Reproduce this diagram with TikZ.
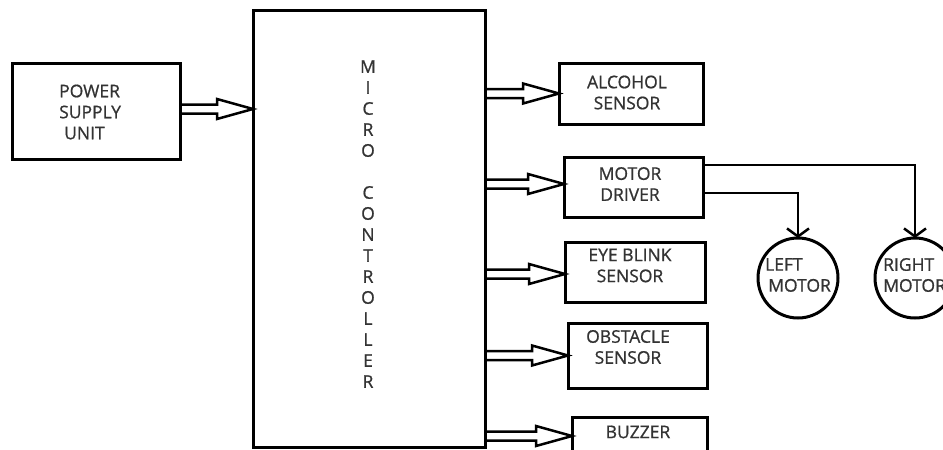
\documentclass[tikz,border=0pt]{standalone}
\usepackage{fontspec}
\setmainfont{Open Sans}[RawFeature={embolden=0.8}]
\usetikzlibrary{arrows.meta,calc}
\begin{document}
\begin{tikzpicture}[x=1pt,y=-1pt,
  blk/.style={draw, line width=3pt, inner sep=0pt, outer sep=0pt, rectangle},
  lbl/.style={text=black!80, font=\fontsize{17.5}{21}\selectfont, align=center, inner sep=0pt},
  lbll/.style={lbl, align=left, anchor=west},
  motor/.style={draw, circle, line width=3pt, minimum size=80pt, inner sep=0pt, outer sep=0pt},
  hollow/.style={line width=2.5pt, line join=miter,
    to path={let \p1=(\tikztostart), \p2=(\tikztotarget) in
      (\x1,\y1+4.5pt) -- (\x2-36pt,\y2+4.5pt) -- (\x2-36pt,\y2+10pt) -- (\x2,\y2)
      -- (\x2-36pt,\y2-10pt) -- (\x2-36pt,\y2-4.5pt) -- (\x1,\y1-4.5pt)}},
  wire/.style={line width=2.5pt, -{Straight Barb[length=8pt,width=22pt,line width=2.5pt]}}
]
\clip (0,0) rectangle (943,450);
\fill[white] (0,0) rectangle (943,450);

% blocks
\node[blk, minimum width=168pt, minimum height=96pt] (psu) at (96,111) {};
\node[blk, minimum width=232pt, minimum height=437pt] (mc) at (369,228.5) {};
\node[blk, minimum width=144pt, minimum height=61pt] (al) at (631,93.5) {};
\node[blk, minimum width=139pt, minimum height=60pt] (md) at (633.5,187) {};
\node[blk, minimum width=140pt, minimum height=60pt] (eb) at (635,272) {};
\node[blk, minimum width=139pt, minimum height=65pt] (ob) at (637.5,355.5) {};
\node[blk, minimum width=135pt, minimum height=62pt] (bz) at (639.5,448) {};
\node[motor] (lm) at (798,278) {};
\node[motor] (rm) at (915,278) {};

% texts
\node[lbll] (psut) at (59,112) {POWER\\SUPPLY\\\hspace{5pt}UNIT};
\node[lbl] (mct) at (368,224) {M\\I\\C\\R\\O\\[21pt]C\\O\\N\\T\\R\\O\\L\\L\\E\\R};
\node[lbl] (alt) at (627,92.5) {ALCOHOL\\SENSOR};
\node[lbl] (mdt) at (630,184) {MOTOR\\DRIVER};
\node[lbl] (ebt) at (630,265.5) {EYE BLINK\\SENSOR};
\node[lbl] (obt) at (628,347) {OBSTACLE\\SENSOR};
\node[lbl] (bzt) at (638,432) {BUZZER};
\node[lbll] (lmt) at (765,275) {LEFT\\\hspace{3pt}MOTOR};
\node[lbll] (rmt) at (883,275) {RIGHT\\MOTOR};

% hollow arrows
\coordinate (bzin) at (bz.west |- 0,436);
\draw[hollow] (psu.east |- 0,109) to (mc.west |- 0,109);
\draw[hollow] (mc.east |- al.west) to (al.west);
\draw[hollow] (mc.east |- 0,184) to (md.west |- 0,184);
\draw[hollow] (mc.east |- 0,274) to (eb.west |- 0,274);
\draw[hollow] (mc.east |- ob.west) to (ob.west);
\draw[hollow] (mc.east |- bzin) to (bzin);

% motor wires
\draw[wire] ($(md.north east)+(0,8)$) -| (rm.north);
\draw[wire] ($(md.south east)+(0,-24)$) -| (lm.north);
\end{tikzpicture}
\end{document}
